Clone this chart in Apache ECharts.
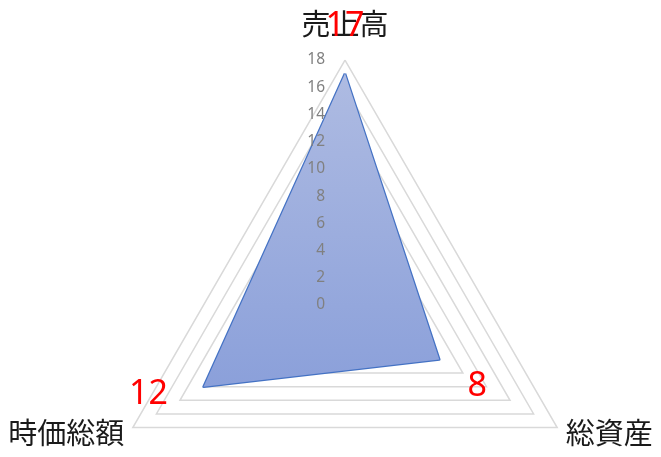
<!DOCTYPE html>
<html>
<head>
<meta charset="utf-8">
<script src="https://cdn.jsdelivr.net/npm/echarts@6/dist/echarts.min.js"></script>
<style>
  html, body { margin: 0; padding: 0; background: #fff; }
  #chart { width: 661px; height: 457px; }
</style>
</head>
<body>
<div id="chart"></div>
<script>
// indicators in ECharts order (counter-clockwise from top)
const indicators = ['売上高', '時価総額', '総資産'];
const values = [17, 12, 8];
const axisMax = 18;
const axisStep = 2;

const chart = echarts.init(document.getElementById('chart'));

// label offsets per vertex (px from the point)
const labelOffsets = [[0, -47], [-55, 8], [38, 27]];

const labelSeries = values.map((v, k) => ({
  type: 'radar',
  radarIndex: 0,
  z: 10,
  symbol: 'circle',
  symbolSize: 1,
  silent: true,
  lineStyle: { width: 0, color: 'transparent' },
  itemStyle: { color: 'transparent' },
  label: {
    show: true,
    position: 'inside',
    offset: labelOffsets[k],
    color: '#ff0000',
    fontSize: 34,
    fontFamily: 'Noto Sans',
    formatter: p => (p.value === values[k] ? String(p.value) : '')
  },
  data: [{ value: values }]
}));

const baseRadar = {
  center: [345, 305],
  radius: 245,
  startAngle: 90,
  shape: 'polygon',
  splitNumber: axisMax / axisStep,
  nameGap: 10,
  axisLine: { show: false },
  axisTick: { show: false },
  splitArea: { show: false }
};

chart.setOption({
  animation: false,
  radar: [
    Object.assign({}, baseRadar, {
      z: 1,
      indicator: indicators.map(name => ({ name: name, min: 0, max: axisMax })),
      axisName: {
        color: '#1a1a1a',
        fontSize: 29,
        fontFamily: 'Noto Sans CJK JP',
        formatter: name => (name === indicators[0] ? '{top|' + name + '}' : name),
        rich: {
          top: { fontSize: 29, fontFamily: 'Noto Sans CJK JP', color: '#1a1a1a', padding: [0, 0, 12, 0] }
        }
      },
      axisLabel: { show: false },
      splitLine: { lineStyle: { color: '#d9d9d9', width: 1.5 } }
    }),
    // second copy only for the tick labels, drawn above the filled area
    Object.assign({}, baseRadar, {
      z: 8,
      indicator: indicators.map((name, i) => ({
        name: name, min: 0, max: axisMax,
        axisLabel: { show: i === 0 }
      })),
      axisName: { show: false },
      axisLabel: {
        show: false,
        color: '#808080',
        fontSize: 15.5,
        fontFamily: 'Noto Sans',
        margin: 20
      },
      splitLine: { show: false }
    })
  ],
  series: [{
    type: 'radar',
    radarIndex: 0,
    z: 2,
    symbol: 'none',
    lineStyle: { color: '#4472c4', width: 2.5 },
    itemStyle: { color: '#4472c4' },
    areaStyle: {
      opacity: 1,
      color: new echarts.graphic.LinearGradient(0, 0, 0, 1, [
        { offset: 0, color: '#aebbe2' },
        { offset: 1, color: '#8ba0da' }
      ])
    },
    data: [{ value: values }]
  }].concat(labelSeries)
});
</script>
</body>
</html>
